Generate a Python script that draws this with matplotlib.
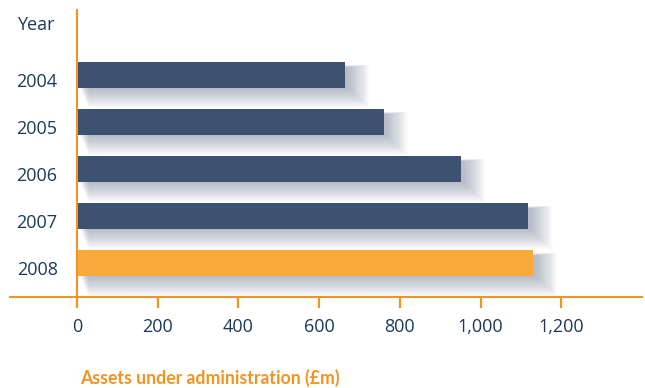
import matplotlib.pyplot as plt
import matplotlib.transforms as mtransforms

years = ['2004', '2005', '2006', '2007', '2008']
assets = [665, 760, 952, 1118, 1131]
bar_colors = ['#3d5170', '#3d5170', '#3d5170', '#3d5170', '#f9a83a']
xticks = [0, 200, 400, 600, 800, 1000, 1200]
xtick_labels = ['0', '200', '400', '600', '800', '1,000', '1,200']

orange = '#f39322'
navy_text = '#1b3a5c'

plt.rcParams['font.family'] = ['Open Sans', 'DejaVu Sans']

fig = plt.figure(figsize=(6.45, 3.88), dpi=100)
ax = fig.add_axes([77 / 645, 1 - 297 / 388, 565 / 645, 287 / 388])

pos = list(range(len(years)))

# soft drop shadow: stacked translucent copies, growing and shifted down/right
for k in range(20):
    off = mtransforms.offset_copy(ax.transData, fig=fig, x=3 + k * 0.45, y=-(3 + k * 0.45), units='dots')
    ax.barh(pos, [a + k * 1.6 for a in assets], height=0.45 + k * 0.025, left=0,
            color='#3d4a70', alpha=0.018, transform=off, zorder=1, linewidth=0)

ax.barh(pos, assets, height=0.55, color=bar_colors, zorder=3, linewidth=0)

ax.set_xlim(0, 1400)
ax.set_ylim(4.72, -1.38)

for s in ['top', 'right', 'left', 'bottom']:
    ax.spines[s].set_visible(False)

# axis lines
ax.plot([-165, 1400], [4.72, 4.72], color=orange, lw=1.5, clip_on=False, zorder=4)
ax.plot([0, 0], [-1.38, 4.72], color=orange, lw=1.5, clip_on=False, zorder=4)

ax.set_xticks(xticks)
ax.set_xticklabels(xtick_labels)
ax.tick_params(axis='x', length=8, width=1.6, color=orange, pad=7,
               labelsize=13, labelcolor=navy_text)

ax.set_yticks(pos)
ax.set_yticklabels(years)
ax.tick_params(axis='y', length=0, pad=14, labelsize=13, labelcolor=navy_text)
shift = mtransforms.ScaledTranslation(0, -5 / 100, fig.dpi_scale_trans)
for lab in ax.get_yticklabels():
    lab.set_transform(lab.get_transform() + shift)

fig.text(17 / 645, 1 - 25 / 388, 'Year', color=navy_text, fontsize=13,
         ha='left', va='center')

fig.text(80 / 645, 1 - 378 / 388, 'Assets under administration (£m)', color=orange,
         fontsize=12.7, fontweight='bold', family=['Lato', 'DejaVu Sans'],
         ha='left', va='center')

fig.savefig('out.png', dpi=100, facecolor='white')
